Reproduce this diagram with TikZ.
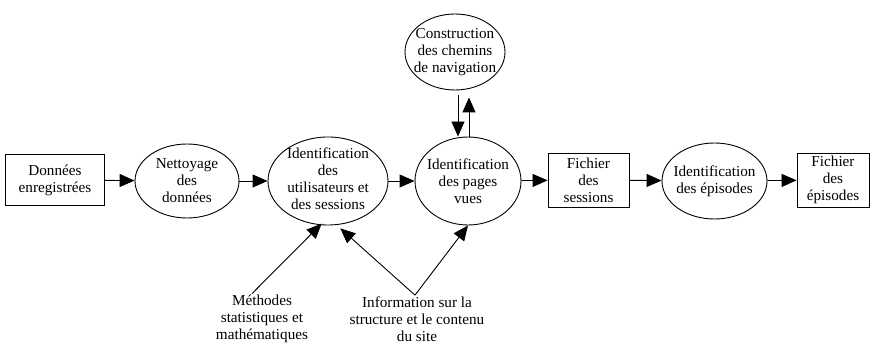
\documentclass[tikz,border=0pt]{standalone}
\usepackage{fontspec}
\setmainfont{Liberation Serif}
\usetikzlibrary{arrows.meta, shapes.geometric}

\begin{document}
\begin{tikzpicture}[x=1pt, y=-1pt, >={Triangle[length=15pt,width=13pt]}, line width=0.9pt,
    font=\fontsize{15.2}{17}\selectfont,
    caja/.style={draw, rectangle, align=center, inner sep=0pt},
    elipse/.style={draw, ellipse, inner sep=0pt},
    texto/.style={align=center, inner sep=1pt}]
    \useasboundingbox (0,0) rectangle (872,347);

    % Nodos de la fila principal
    \node [caja, minimum width=99pt, minimum height=51pt] (datos) at (55,180) {Données\\enregistrées};
    \node [elipse, minimum width=104pt, minimum height=74pt] (nettoyage) at (187,181) {};
    \node [texto] (tnettoyage) at (nettoyage) {Nettoyage\\des\\données};
    \node [elipse, minimum width=120pt, minimum height=88pt] (utilisateurs) at (328,181) {};
    \node [texto] (tutilisateurs) at (328,179) {Identification\\des\\utilisateurs et\\des sessions};
    \node [elipse, minimum width=106pt, minimum height=88pt] (pages) at (468,181) {};
    \node [texto] (tpages) at (pages) {Identification\\des pages\\vues};
    \node [caja, minimum width=81pt, minimum height=54pt] (sessions) at (588.5,180) {Fichier\\des\\sessions};
    \node [elipse, minimum width=105pt, minimum height=76pt] (episodes) at (714.5,181) {};
    \node [texto] (tepisodes) at (episodes) {Identification\\des épisodes};
    \node [caja, minimum width=72pt, minimum height=54pt] (fepisodes) at (833,180) {Fichier\\des\\épisodes};

    % Nodo de arriba
    \node [elipse, minimum width=100pt, minimum height=76pt] (chemins) at (455,52) {};
    \node [texto] (tchemins) at (chemins) {Construction\\des chemins\\de navigation};

    % Textos de abajo
    \node [texto] (methodes) at (262,319) {Méthodes\\statistiques et\\mathématiques};
    \node [texto] (info) at (417,319) {Information sur la\\structure et le contenu\\du site};

    % Flechas de la fila principal
    \draw[->] (datos) -- (nettoyage);
    \draw[->] (nettoyage) -- (utilisateurs);
    \draw[->] (utilisateurs) -- (pages);
    \draw[->] (pages) -- (sessions);
    \draw[->] (sessions) -- (episodes);
    \draw[->] (episodes) -- (fepisodes);

    % Flechas con la construccion
    \draw[->, shorten <=5pt] ([xshift=3pt]chemins.south) -- ([xshift=3pt]chemins.south |- pages.north);
    \draw[->, shorten >=7pt] ([xshift=1pt]pages.north) -- ([xshift=1pt]pages.north |- chemins.south);

    % Flechas desde abajo
    \draw[->, shorten >=-2pt] ([xshift=-10pt]methodes.north) -- (utilisateurs.260);
    \draw[->, shorten >=5pt] ([xshift=-2pt]info.north) -- (utilisateurs.281);
    \draw[->] ([xshift=-2pt]info.north) -- (pages.south);
\end{tikzpicture}
\end{document}
